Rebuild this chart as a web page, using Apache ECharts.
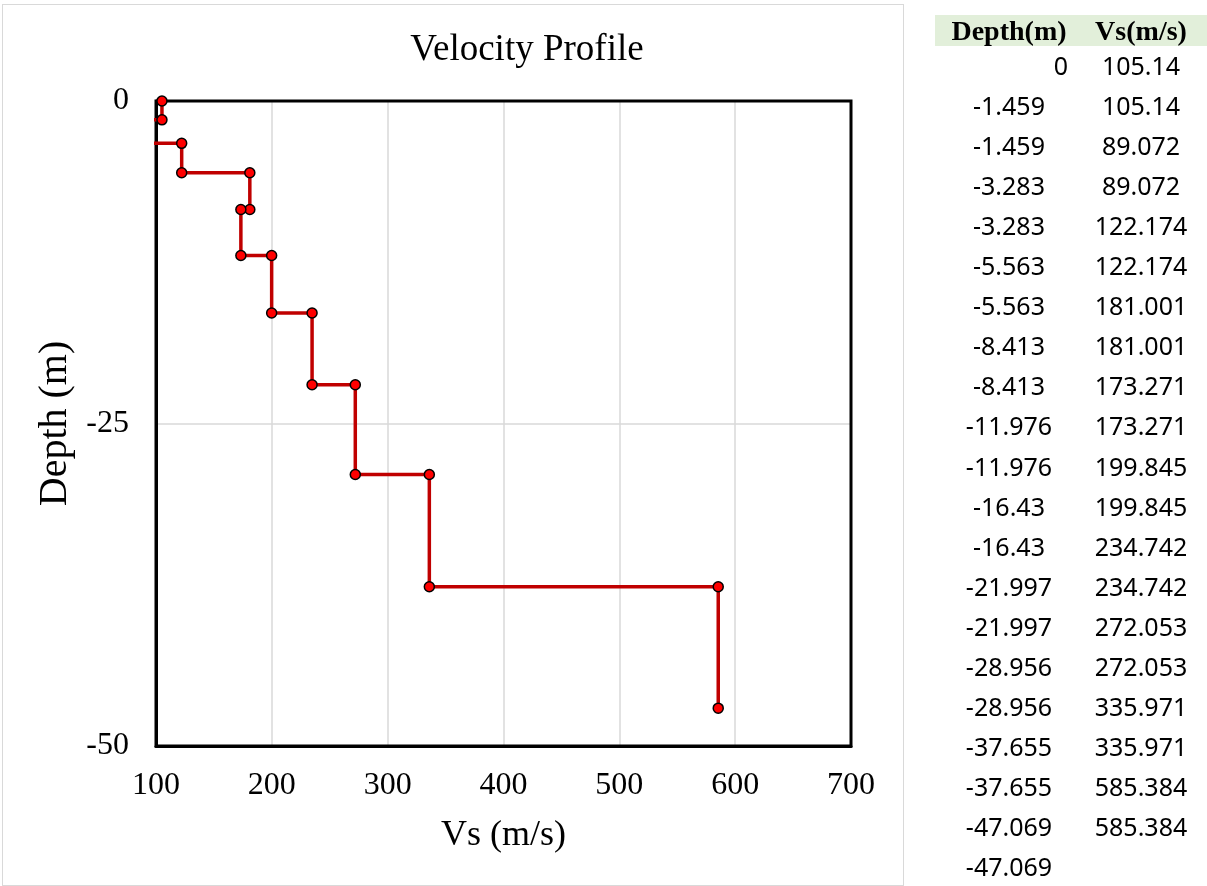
<!DOCTYPE html>
<html>
<head>
<meta charset="utf-8">
<script src="https://cdn.jsdelivr.net/npm/echarts@6/dist/echarts.min.js"></script>
<style>
  html, body { margin:0; padding:0; background:#fff; }
  #frame { position:absolute; left:2px; top:4px; width:902px; height:882px; border:1px solid #D9D9D9; box-sizing:border-box; }
  #chart { position:absolute; left:0; top:0; width:1207px; height:886px; }
  #table { position:absolute; left:0; top:0; width:1207px; height:886px; pointer-events:none; }
  .hdr { position:absolute; top:15px; height:31px; left:935px; width:272px; background:#E2EFDA; }
  .cell { position:absolute; font-family:"Noto Sans", sans-serif; font-size:25px; color:#000; line-height:40px; height:40px; white-space:nowrap; }
  .hcell { position:absolute; font-family:"Liberation Serif", serif; font-weight:bold; font-size:28px; color:#000; line-height:31px; top:15px; white-space:nowrap; }
</style>
</head>
<body>
<div id="frame"></div>
<div id="chart"></div>
<div id="table"></div>
<script>
// ---- data ----
const tableHeaders = ['Depth(m)', 'Vs(m/s)'];
const depths = [0, -1.459, -1.459, -3.283, -3.283, -5.563, -5.563, -8.413, -8.413, -11.976, -11.976,
  -16.43, -16.43, -21.997, -21.997, -28.956, -28.956, -37.655, -37.655, -47.069, -47.069];
const vs = [105.14, 105.14, 89.072, 89.072, 122.174, 122.174, 181.001, 181.001, 173.271, 173.271,
  199.845, 199.845, 234.742, 234.742, 272.053, 272.053, 335.971, 335.971, 585.384, 585.384];
const xTicks = [100, 200, 300, 400, 500, 600, 700];
const yTicks = [-50, -25, 0];
const chartTitle = 'Velocity Profile';
const xName = 'Vs (m/s)';
const yName = 'Depth (m)';

// ---- chart ----
const points = vs.map((v, i) => [v, depths[i]]);
const chart = echarts.init(document.getElementById('chart'), null, { renderer: 'canvas' });
const serif = '"Liberation Serif", "Times New Roman", serif';
chart.setOption({
  animation: false,
  backgroundColor: 'transparent',
  title: {
    text: chartTitle, left: 522, top: 27, textAlign: 'center',
    textStyle: { fontFamily: serif, fontSize: 37, fontWeight: 'normal', color: '#000' }
  },
  grid: { left: 156, right: 356, top: 101, bottom: 140, show: true, borderColor: '#000', borderWidth: 3, backgroundColor: 'transparent', z: 3 },
  xAxis: {
    type: 'value', min: xTicks[0], max: xTicks[xTicks.length - 1], interval: xTicks[1] - xTicks[0],
    name: xName, nameLocation: 'middle', nameGap: 72,
    nameTextStyle: { fontFamily: serif, fontSize: 36, color: '#000' },
    axisLine: { show: true, onZero: false, lineStyle: { color: '#000', width: 3 } }, axisTick: { show: false },
    axisLabel: { fontFamily: serif, fontSize: 32, color: '#000', margin: 24 },
    splitLine: { show: true, showMinLine: false, showMaxLine: false, lineStyle: { color: '#D9D9D9', width: 1.5 } }
  },
  yAxis: {
    type: 'value', min: yTicks[0], max: yTicks[yTicks.length - 1], interval: yTicks[1] - yTicks[0],
    name: yName, nameLocation: 'middle', nameGap: 74, nameRotate: 90,
    nameTextStyle: { fontFamily: serif, fontSize: 40, color: '#000' },
    axisLine: { show: true, onZero: false, lineStyle: { color: '#000', width: 3 } }, axisTick: { show: false },
    axisLabel: { fontFamily: serif, fontSize: 32, color: '#000', margin: 27 },
    splitLine: { show: true, showMinLine: false, showMaxLine: false, lineStyle: { color: '#D9D9D9', width: 1.5 } }
  },
  series: [{
    type: 'line', data: points, clip: true,
    symbol: 'circle', symbolSize: 10, showAllSymbol: true,
    lineStyle: { color: '#C00000', width: 3.5 },
    itemStyle: { color: '#FF0000', borderColor: '#000', borderWidth: 1.5 },
    z: 5
  }]
});

// ---- table ----
const tbl = document.getElementById('table');
const hdr = document.createElement('div'); hdr.className = 'hdr'; tbl.appendChild(hdr);
const colCenters = [1009, 1141];
tableHeaders.forEach((h, i) => {
  const d = document.createElement('div');
  d.className = 'hcell'; d.textContent = h;
  d.style.left = (colCenters[i] - 80) + 'px'; d.style.width = '160px'; d.style.textAlign = 'center';
  tbl.appendChild(d);
});
const rowTop0 = 45, rowH = 40.05;
depths.forEach((d, i) => {
  const c = document.createElement('div');
  c.className = 'cell'; c.textContent = String(d);
  c.style.top = (rowTop0 + i * rowH) + 'px';
  if (d === 0) { c.style.left = '968px'; c.style.width = '100px'; c.style.textAlign = 'right'; }
  else { c.style.left = (colCenters[0] - 70) + 'px'; c.style.width = '140px'; c.style.textAlign = 'center'; }
  tbl.appendChild(c);
});
vs.forEach((v, i) => {
  const c = document.createElement('div');
  c.className = 'cell'; c.textContent = String(v);
  c.style.top = (rowTop0 + i * rowH) + 'px';
  c.style.left = (colCenters[1] - 70) + 'px'; c.style.width = '140px'; c.style.textAlign = 'center';
  tbl.appendChild(c);
});
</script>
</body>
</html>
